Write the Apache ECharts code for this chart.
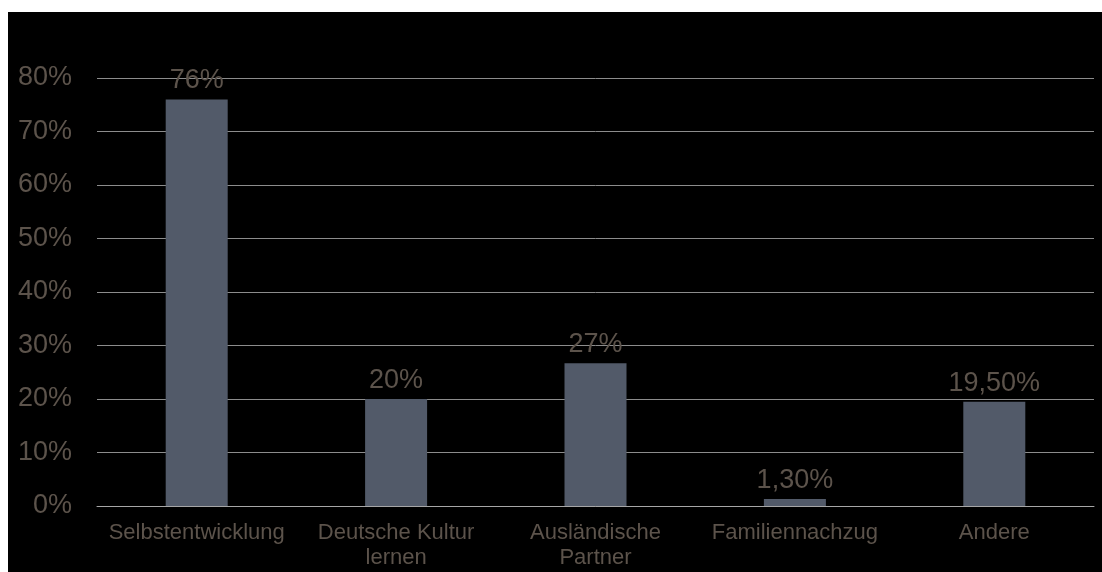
<!DOCTYPE html>
<html>
<head>
<meta charset="utf-8">
<script src="https://cdn.jsdelivr.net/npm/echarts@6/dist/echarts.min.js"></script>
<style>
html,body{margin:0;padding:0;background:#ffffff;width:1102px;height:572px;overflow:hidden;}
#chart{position:absolute;left:8px;top:12px;width:1094px;height:560px;background:#000000;}
</style>
</head>
<body>
<div id="chart"></div>
<script>
const categories = ["Selbstentwicklung", "Deutsche Kultur\nlernen", "Ausländische\nPartner", "Familiennachzug", "Andere"];
const values = [76, 20, 26.7, 1.3, 19.5];
const valueLabels = ["76%", "20%", "27%", "1,30%", "19,50%"];
const yTicks = [0, 10, 20, 30, 40, 50, 60, 70, 80];

const font = "'Liberation Sans', Arial, sans-serif";
const textColor = "#5c534b";

const chart = echarts.init(document.getElementById('chart'), null, {renderer: 'canvas'});
chart.setOption({
  backgroundColor: '#000000',
  animation: false,
  grid: {left: 89, right: 8, top: 66, bottom: 66, containLabel: false},
  xAxis: {
    type: 'category',
    data: categories,
    axisLine: {show: true, lineStyle: {color: '#a6a6a6', width: 1}},
    axisTick: {show: false},
    axisLabel: {color: textColor, fontSize: 22, fontFamily: font, margin: 14, lineHeight: 25, interval: 0}
  },
  yAxis: {
    type: 'value',
    min: yTicks[0],
    max: yTicks[yTicks.length - 1],
    interval: 10,
    axisLine: {show: false},
    axisTick: {show: false},
    splitLine: {lineStyle: {color: '#8c8c8c', width: 1}},
    axisLabel: {color: textColor, fontSize: 27, fontFamily: font, margin: 25, formatter: v => v + '%'}
  },
  series: [{
    type: 'bar',
    data: values,
    barWidth: 62,
    itemStyle: {color: '#525a69'},
    label: {
      show: true,
      position: 'top',
      distance: 5,
      color: textColor,
      fontSize: 27,
      fontFamily: font,
      formatter: p => valueLabels[p.dataIndex]
    }
  }]
});
</script>
</body>
</html>
